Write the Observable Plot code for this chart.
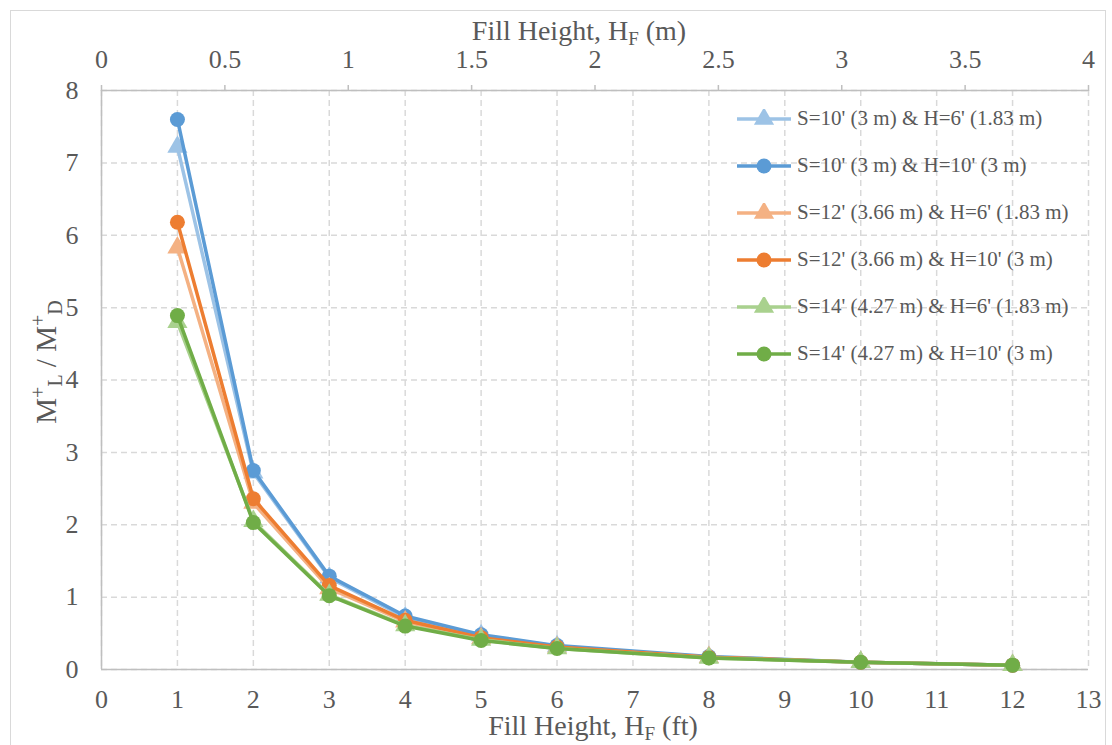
<!DOCTYPE html>
<html>
<head>
<meta charset="utf-8">
<script src="https://cdn.jsdelivr.net/npm/d3@7"></script>
<script src="https://cdn.jsdelivr.net/npm/@observablehq/plot@0.6"></script>
<style>
  html, body { margin: 0; padding: 0; background: white; }
  #wrap { position: relative; width: 1112px; height: 745px; overflow: hidden; }
  #border { position: absolute; left: 10px; top: 10px; width: 1096px; height: 780px; border: 1px solid #d9d9d9; box-sizing: border-box; }
  #legend { position: absolute; left: 735px; top: 95px; font-family: "Liberation Serif", Tinos, "DejaVu Serif", serif; font-size: 21px; color: #595959; }
  #legend .row { display: flex; align-items: center; height: 47px; white-space: nowrap; }
  #legend svg { margin-right: 4px; }
</style>
</head>
<body>
<div id="wrap">
  <div id="border"></div>
  <div id="chart"></div>
  <div id="legend"></div>
</div>
<script>
// ---- data ----
const fillHeightsFt = [1, 2, 3, 4, 5, 6, 8, 10, 12];
const seriesNames = [
  "S=10' (3 m) & H=6' (1.83 m)",
  "S=10' (3 m) & H=10' (3 m)",
  "S=12' (3.66 m) & H=6' (1.83 m)",
  "S=12' (3.66 m) & H=10' (3 m)",
  "S=14' (4.27 m) & H=6' (1.83 m)",
  "S=14' (4.27 m) & H=10' (3 m)"
];
const s10h6  = [7.22, 2.72, 1.27, 0.72, 0.47, 0.32, 0.17, 0.10, 0.06];
const s10h10 = [7.60, 2.75, 1.29, 0.74, 0.48, 0.33, 0.18, 0.10, 0.06];
const s12h6  = [5.83, 2.30, 1.12, 0.66, 0.43, 0.30, 0.17, 0.10, 0.06];
const s12h10 = [6.18, 2.36, 1.16, 0.68, 0.44, 0.31, 0.17, 0.10, 0.06];
const s14h6  = [4.80, 2.05, 1.03, 0.61, 0.41, 0.29, 0.16, 0.10, 0.06];
const s14h10 = [4.89, 2.03, 1.02, 0.60, 0.40, 0.29, 0.16, 0.10, 0.06];
const seriesValues = [s10h6, s10h10, s12h6, s12h10, s14h6, s14h10];
const seriesColors = ["#9DC3E6", "#5B9BD5", "#F4B183", "#ED7D31", "#A9D18E", "#70AD47"];
const seriesSymbols = ["triangle", "circle", "triangle", "circle", "triangle", "circle"];

const xTicksFt = [0, 1, 2, 3, 4, 5, 6, 7, 8, 9, 10, 11, 12, 13];
const yTicks = [0, 1, 2, 3, 4, 5, 6, 7, 8];
const xTicksM = [0, 0.5, 1, 1.5, 2, 2.5, 3, 3.5, 4];
const ftSpan = 13, mSpan = 4; // secondary axis shares the plot width

const FONT = '"Liberation Serif", Tinos, "DejaVu Serif", serif';

// ---- build ----
const seriesData = seriesNames.map((name, k) =>
  fillHeightsFt.map((x, i) => ({series: name, x, y: seriesValues[k][i]}))
);
const topPos = xTicksM.map(m => m * ftSpan / mSpan);
const topLabel = new Map(topPos.map((p, i) => [p, String(xTicksM[i])]));

const gridStyle = {stroke: "#d9d9d9", strokeOpacity: 1, strokeWidth: 1.5, strokeDasharray: "6,4"};
const axisLine = {stroke: "#bfbfbf", strokeWidth: 1.5};

const marks = [
  Plot.gridX(xTicksFt, gridStyle),
  Plot.gridY(yTicks, gridStyle),
  Plot.ruleY([0], axisLine),
  Plot.ruleY([8], axisLine),
  Plot.ruleX([0], axisLine),
  Plot.axisY(yTicks, {tickSize: 0, tickPadding: 23, fill: "#595959", label: null, fontSize: 26, tickFormat: d => String(d)}),
  Plot.axisX(xTicksFt, {anchor: "bottom", tickSize: 0, tickPadding: 20, fill: "#595959", label: null, fontSize: 26, tickFormat: d => String(d)}),
  Plot.axisX(topPos, {anchor: "top", tickSize: 6, tickPadding: 17, stroke: "#bfbfbf", strokeWidth: 1.5, fill: "#595959", label: null, fontSize: 26, tickFormat: d => topLabel.get(d)})
];
seriesData.forEach((data, k) => {
  marks.push(Plot.line(data, {x: "x", y: "y", stroke: seriesColors[k], strokeWidth: 3.5}));
  marks.push(Plot.dot(data, {x: "x", y: "y", fill: seriesColors[k], symbol: seriesSymbols[k], r: 7.5}));
});

const svg = Plot.plot({
  width: 1112,
  height: 745,
  marginLeft: 101,
  marginRight: 24,
  marginTop: 90,
  marginBottom: 76,
  x: {domain: [0, 13]},
  y: {domain: [0, 8]},
  style: {fontFamily: FONT, fontSize: "26px", color: "#595959", background: "transparent"},
  marks
});

// axis titles with sub/superscripts
const g = d3.select(svg).append("g")
  .attr("fill", "#595959")
  .style("font-family", FONT);

function fillTitle(sel, unit) {
  sel.append("tspan").text("Fill Height, H");
  sel.append("tspan").attr("font-size", 19).attr("dy", 5).text("F");
  sel.append("tspan").attr("dy", -5).text(" (" + unit + ")");
}
fillTitle(g.append("text").attr("x", 593).attr("y", 735).attr("font-size", 28).attr("text-anchor", "middle"), "ft");
fillTitle(g.append("text").attr("x", 579).attr("y", 40).attr("font-size", 28).attr("text-anchor", "middle"), "m");

const yl = g.append("text").attr("transform", "translate(56,362) rotate(-90)")
  .attr("font-size", 29).attr("text-anchor", "middle");
yl.append("tspan").text("M");
yl.append("tspan").attr("font-size", 20).attr("dy", -11).text("+");
yl.append("tspan").attr("font-size", 20).attr("dy", 17).text("L");
yl.append("tspan").attr("dy", -6).text(" / M");
yl.append("tspan").attr("font-size", 20).attr("dy", -11).text("+");
yl.append("tspan").attr("font-size", 20).attr("dy", 17).text("D");

document.getElementById("chart").appendChild(svg);

// legend
const legend = d3.select("#legend");
seriesNames.forEach((name, k) => {
  const row = legend.append("div").attr("class", "row");
  const s = row.append("svg").attr("width", 58).attr("height", 20);
  s.append("line").attr("x1", 2).attr("x2", 56).attr("y1", 10).attr("y2", 10)
    .attr("stroke", seriesColors[k]).attr("stroke-width", 3.5);
  const sym = seriesSymbols[k] === "circle" ? d3.symbolCircle : d3.symbolTriangle;
  s.append("path").attr("d", d3.symbol(sym, 7.5 * 7.5 * Math.PI)())
    .attr("transform", "translate(29,10)").attr("fill", seriesColors[k]);
  row.append("span").text(name);
});
</script>
</body>
</html>
